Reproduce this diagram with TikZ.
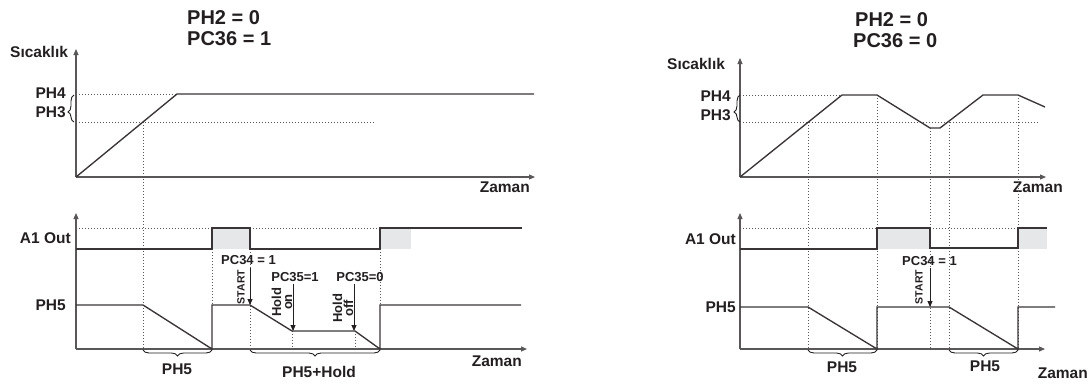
\documentclass[tikz,border=0pt]{standalone}
\usepackage{fontspec}
\setmainfont{Liberation Sans}
\usetikzlibrary{decorations.pathreplacing,arrows.meta}
\definecolor{ink}{HTML}{231F20}
\definecolor{fillg}{HTML}{E6E7E8}
\begin{document}
\begin{tikzpicture}[x=1pt,y=-1pt,
  axis/.style={draw=ink!75, line width=1.1pt, -{Triangle[length=6pt,width=5pt]}},
  sig/.style={draw=ink!90, line width=1.35pt, line join=miter},
  dots/.style={draw=ink!75, line width=0.75pt, dash pattern=on 0.8pt off 2.2pt},
  marker/.style={draw=ink, line width=0.9pt, -{Triangle[length=6pt,width=5pt]}},
  bracedown/.style={draw=ink, line width=0.9pt, decorate, decoration={brace, amplitude=6pt}},
  braceleft/.style={draw=ink, line width=0.9pt, decorate, decoration={brace, amplitude=6pt, aspect=0.37}},
  pulsefill/.style={fill=fillg, draw=none},
  title/.style={font=\bfseries\fontsize{20}{22}\selectfont, text=ink, inner sep=0pt, anchor=north west},
  lbl/.style={font=\bfseries\fontsize{15.5}{17}\selectfont, text=ink, inner sep=0pt},
  small/.style={font=\bfseries\fontsize{13}{11}\selectfont, text=ink, inner sep=0pt},
  tiny/.style={font=\bfseries\fontsize{10.5}{11}\selectfont, text=ink, inner sep=0pt, rotate=90}]
\useasboundingbox (0,0) rectangle (1089,389);

% ================= LEFT PANEL =================
\node[title] (t1a) at (187,10) {PH2 = 0};
\node[title] (t1b) at (187,31) {PC36 = 1};
\node[lbl, anchor=north west] (sic1) at (10,46) {Sıcaklık};
\node[lbl, anchor=east] (ph4a) at (66,93) {PH4};
\node[lbl, anchor=east] (ph3a) at (66,112) {PH3};
\node[lbl, anchor=north east] (zam1) at (530,182) {Zaman};
\node[lbl, anchor=east] (a1a) at (71,238) {A1 Out};
\node[lbl, anchor=east] (ph5a) at (66,305) {PH5};
\node[lbl, anchor=north east] (zam2) at (522,356) {Zaman};

% fills
\fill[pulsefill] (212,228) rectangle (250,249);
\fill[pulsefill] (380,228) rectangle (411,249);

% dotted guides
\draw[dots] (76,94) -- (177,94);
\draw[dots] (76,122) -- (374,122);
\draw[dots] (76,228) -- (212,228);
\draw[dots] (250,228) -- (380,228);
\draw[dots] (143,122) -- (143,349);
\draw[dots] (212,249) -- (212,305);
\draw[dots] (250,249) -- (250,349);
\draw[dots] (292,331) -- (292,349);
\draw[dots] (355,331) -- (355,349);
\draw[dots] (380,249) -- (380,305);

% axes
\coordinate (o1) at (76,177);
\coordinate (o2) at (76,349);
\draw[axis] (o1) -- (76,49);
\draw[axis] (o1) -- (535,177);
\draw[axis] (o2) -- (76,213);
\draw[axis] (o2) -- (527,349);

% signals
\draw[sig] (o1) -- (177,94) -- (534,94);
\draw[sig] (76,249) -- (212,249) -- (212,228) -- (250,228) -- (250,249) -- (380,249) -- (380,228) -- (522,228);
\draw[sig] (76,305) -- (143,305) -- (212,349) -- (212,305) -- (250,305) -- (292,331) -- (355,331) -- (380,349) -- (380,305) -- (521,305);

% braces
\draw[braceleft] (74,122) -- (74,95);
\draw[bracedown] (212,350) -- (143,350);
\draw[bracedown] (380,350) -- (250,350);
\node[lbl] (bl1) at (177,369) {PH5};
\node[lbl] (bl2) at (319,372) {PH5+Hold};

% markers
\node[small, anchor=west] (pc34a) at (221,260) {PC34 = 1};
\node[small] (pc351) at (295,277) {PC35=1};
\node[small] (pc350) at (360,277) {PC35=0};
\node[tiny] (starta) at (241,287) {START};
\node[small, rotate=90, align=center] (holdon) at (282,302) {Hold\\on};
\node[small, rotate=90, align=center] (holdoff) at (343,308) {Hold\\off};
\coordinate (s1a) at (250,268); \coordinate (s1b) at (250,305);
\coordinate (h1a) at (293,284); \coordinate (h1b) at (293,331);
\coordinate (h2a) at (354,284); \coordinate (h2b) at (354,331);
\draw[marker] (s1a) -- (s1b);
\draw[marker] (h1a) -- (h1b);
\draw[marker] (h2a) -- (h2b);

% ================= RIGHT PANEL =================
\node[title] (t2a) at (855,12) {PH2 = 0};
\node[title] (t2b) at (853,33) {PC36 = 0};
\node[lbl, anchor=north west] (sic2) at (667,58) {Sıcaklık};
\node[lbl, anchor=east] (ph4b) at (731,96) {PH4};
\node[lbl, anchor=east] (ph3b) at (731,115) {PH3};
\node[lbl, anchor=north east] (zam3) at (1063,182) {Zaman};
\node[lbl, anchor=east] (a1b) at (736,239) {A1 Out};
\node[lbl, anchor=east] (ph5b) at (736,307) {PH5};
\node[lbl, anchor=north east] (zam4) at (1088,368) {Zaman};

\fill[pulsefill] (877,228) rectangle (930,249);
\fill[pulsefill] (1018,228) rectangle (1047,249);

\draw[dots] (740,95) -- (842,95);
\draw[dots] (740,122) -- (1038,122);
\draw[dots] (740,228) -- (877,228);
\draw[dots] (930,228) -- (1018,228);
\draw[dots] (808,122) -- (808,349);
\draw[dots] (877,95) -- (877,349);
\draw[dots] (930,128) -- (930,349);
\draw[dots] (949,122) -- (949,349);
\draw[dots] (1018,95) -- (1018,349);

\coordinate (o3) at (740,177);
\coordinate (o4) at (740,349);
\draw[axis] (o3) -- (740,58);
\draw[axis] (o3) -- (1046,177);
\draw[axis] (o4) -- (740,213);
\draw[axis] (o4) -- (1045,349);

\draw[sig] (o3) -- (842,95) -- (877,95) -- (930,128) -- (940,128) -- (983,95) -- (1018,95) -- (1045,107);
\draw[sig] (740,249) -- (877,249) -- (877,228) -- (930,228) -- (930,248) -- (1018,248) -- (1018,228) -- (1047,228);
\draw[sig] (740,307) -- (808,307) -- (877,349) -- (877,307) -- (949,307) -- (1018,349) -- (1018,307) -- (1055,307);

\draw[braceleft] (740,122) -- (740,95);
\draw[bracedown] (877,350) -- (808,350);
\draw[bracedown] (1018,350) -- (949,350);
\node[lbl] (br1) at (842,367) {PH5};
\node[lbl] (br2) at (985,366) {PH5};

\node[small, anchor=west] (pc34b) at (902,261) {PC34 = 1};
\node[tiny] (startb) at (919,287) {START};
\coordinate (s2a) at (930,268); \coordinate (s2b) at (930,307);
\draw[marker] (s2a) -- (s2b);
\end{tikzpicture}
\end{document}
